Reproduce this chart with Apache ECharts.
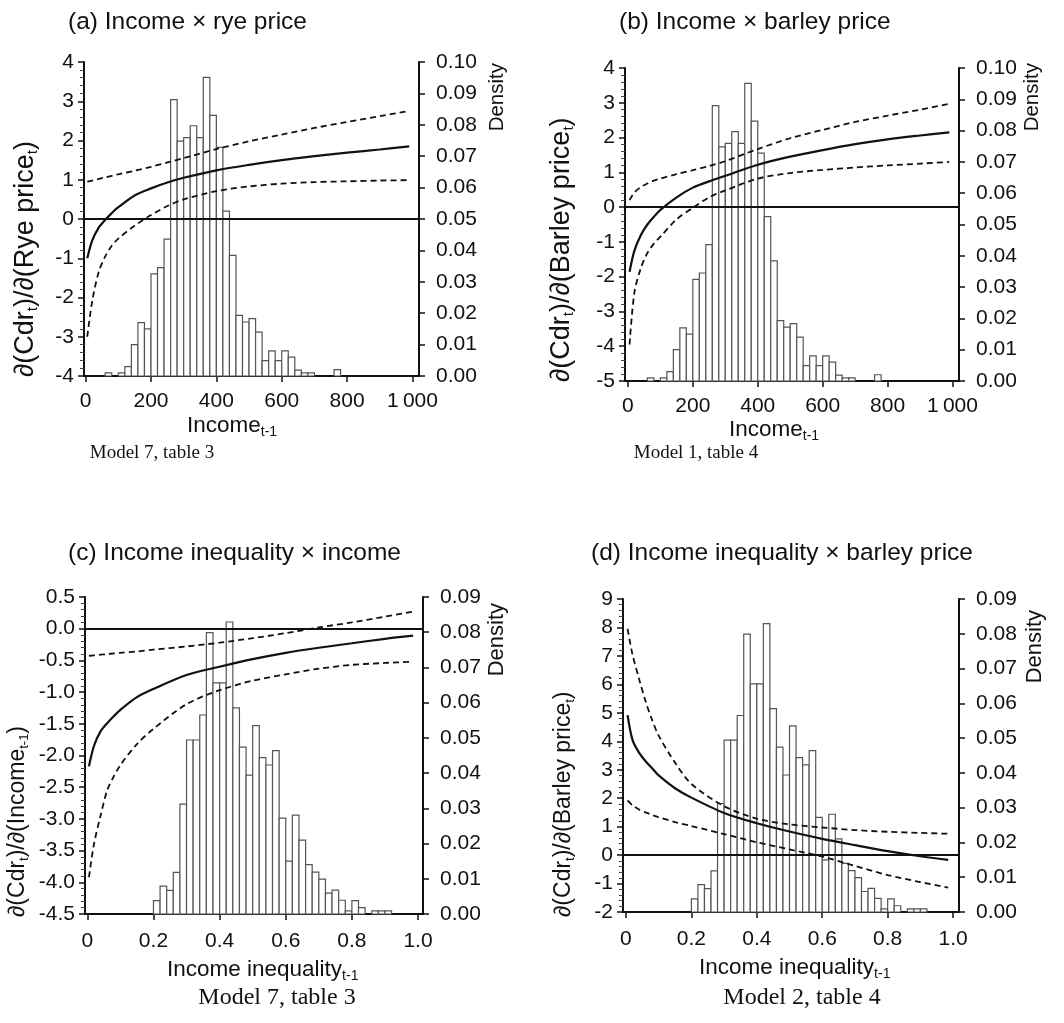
<!DOCTYPE html>
<html>
<head>
<meta charset="utf-8">
<script src="https://cdn.jsdelivr.net/npm/echarts@6/dist/echarts.min.js"></script>
<style>
  html, body { margin: 0; padding: 0; background: #fff; }
  #main { width: 1064px; height: 1023px; }
</style>
</head>
<body>
<div id="main"></div>
<script>
// ---- data ----
// income histogram (bin left edge, bin width 20) - same for panels a and b
var incomeBinStart = [60, 80, 100, 120, 140, 160, 180, 200, 220, 240, 260, 280, 300, 320, 340, 360, 380, 400,
  420, 440, 460, 480, 500, 520, 540, 560, 580, 600, 620, 640, 660, 680, 700, 720, 740, 760];
var incomeDensity = [0.001, 0, 0.001, 0.003, 0.010, 0.017, 0.015, 0.0325, 0.0345, 0.0436, 0.088, 0.0748, 0.0759,
  0.0797, 0.0759, 0.0951, 0.083, 0.0728, 0.0525, 0.0384, 0.0193, 0.0172, 0.0183, 0.014, 0.0049, 0.008, 0.0049,
  0.008, 0.006, 0.0019, 0.001, 0.001, 0, 0, 0, 0.002];

// income inequality histogram (bin left edge, bin width 0.02) - panels c and d
var ineqBinStart = [0.20, 0.22, 0.24, 0.26, 0.28, 0.30, 0.32, 0.34, 0.36, 0.38, 0.40, 0.42, 0.44, 0.46, 0.48, 0.50,
  0.52, 0.54, 0.56, 0.58, 0.60, 0.62, 0.64, 0.66, 0.68, 0.70, 0.72, 0.74, 0.76, 0.78, 0.80, 0.82, 0.84, 0.86, 0.88, 0.90];
var ineqDensity = [0.0038, 0.0079, 0.0067, 0.0118, 0.0312, 0.0494, 0.0494, 0.0565, 0.0799, 0.0656, 0.0656, 0.0829,
  0.0585, 0.0474, 0.0394, 0.0535, 0.0444, 0.0423, 0.0464, 0.0272, 0.0150, 0.0281, 0.0210, 0.0140, 0.0119, 0.0099,
  0.0059, 0.0068, 0.0039, 0.0009, 0.0038, 0.0018, 0, 0.0009, 0.0009, 0.0009];

// marginal effect curves
var incomeX = [5, 20, 40, 60, 80, 100, 150, 200, 250, 300, 400, 500, 600, 700, 800, 900, 990];
var ryeEffect = [-1.0, -0.55, -0.22, -0.02, 0.15, 0.3, 0.6, 0.78, 0.93, 1.05, 1.24, 1.38, 1.5, 1.6, 1.69, 1.77, 1.85];
var ryeUpper  = [0.95, 0.98, 1.02, 1.06, 1.10, 1.14, 1.23, 1.33, 1.44, 1.55, 1.78, 1.98, 2.15, 2.32, 2.47, 2.62, 2.75];
var ryeLower  = [-3.0, -2.1, -1.35, -0.95, -0.68, -0.5, -0.17, 0.1, 0.33, 0.5, 0.71, 0.83, 0.9, 0.94, 0.96, 0.98, 0.99];

var barleyEffect = [-1.86, -1.25, -0.8, -0.5, -0.28, -0.08, 0.28, 0.56, 0.74, 0.9, 1.22, 1.45, 1.64, 1.81, 1.95, 2.06, 2.15];
var barleyUpper  = [0.2, 0.42, 0.58, 0.68, 0.76, 0.82, 0.95, 1.06, 1.18, 1.32, 1.67, 1.98, 2.22, 2.45, 2.63, 2.8, 2.97];
var barleyLower  = [-3.95, -2.45, -1.75, -1.32, -1.05, -0.85, -0.35, -0.02, 0.28, 0.48, 0.82, 0.98, 1.07, 1.14, 1.2, 1.25, 1.3];

var ineqX = [0.005, 0.02, 0.04, 0.06, 0.08, 0.1, 0.15, 0.2, 0.3, 0.4, 0.5, 0.6, 0.7, 0.8, 0.9, 0.985];
var ineqIncEffect = [-2.17, -1.85, -1.62, -1.49, -1.38, -1.28, -1.08, -0.95, -0.73, -0.6, -0.48, -0.38, -0.3, -0.23, -0.16, -0.11];
var ineqIncUpper  = [-0.43, -0.42, -0.41, -0.4, -0.39, -0.38, -0.36, -0.33, -0.28, -0.22, -0.15, -0.07, 0.02, 0.1, 0.19, 0.27];
var ineqIncLower  = [-3.92, -3.4, -2.95, -2.55, -2.33, -2.15, -1.82, -1.58, -1.19, -0.97, -0.82, -0.72, -0.63, -0.57, -0.54, -0.52];

var ineqBarEffect = [4.92, 4.05, 3.6, 3.3, 3.05, 2.8, 2.35, 2.02, 1.48, 1.12, 0.83, 0.57, 0.35, 0.14, -0.04, -0.17];
var ineqBarUpper  = [7.95, 7.05, 6.2, 5.4, 4.75, 4.2, 3.25, 2.5, 1.72, 1.28, 1.08, 0.97, 0.88, 0.82, 0.78, 0.75];
var ineqBarLower  = [1.92, 1.75, 1.6, 1.5, 1.41, 1.33, 1.16, 1.02, 0.74, 0.45, 0.2, -0.05, -0.38, -0.7, -0.95, -1.14];

var incomeTicks = [0, 200, 400, 600, 800, 1000];
var ineqTicks = [0, 0.2, 0.4, 0.6, 0.8, 1.0];

var FONT = '"Liberation Sans", Arial, Helvetica, sans-serif';
var SERIF = '"Liberation Serif", "Times New Roman", serif';
var INK = '#111';

var chart = echarts.init(document.getElementById('main'), null, {renderer: 'canvas'});

var grids = [], xAxes = [], yAxes = [], series = [], graphics = [];

function zip(xs, ys) {
  var out = [];
  for (var i = 0; i < xs.length; i++) out.push([xs[i], ys[i]]);
  return out;
}

function subRich(main, sub, pad) {
  return {
    s: {fontSize: sub, fontFamily: FONT, fill: INK, padding: [pad, 0, 0, 0], verticalAlign: 'bottom'},
    n: {fontSize: main, fontFamily: FONT, fill: INK}
  };
}

function addPanel(p) {
  var i = grids.length;
  grids.push({left: p.box[0], top: p.box[1], width: p.box[2], height: p.box[3]});
  xAxes.push({
    gridIndex: i, type: 'value', min: p.xmin, max: p.xmax,
    axisLine: {show: true, onZero: false, lineStyle: {color: INK, width: 2}},
    axisTick: {show: true, length: 6, lineStyle: {color: INK, width: 1.5}, customValues: p.xticks},
    axisLabel: {customValues: p.xticks, formatter: p.xfmt, color: INK, fontSize: 21, fontFamily: FONT, margin: p.xmargin},
    splitLine: {show: false}
  });
  yAxes.push({
    gridIndex: i, type: 'value', position: 'left', min: p.ymin, max: p.ymax, interval: p.yint,
    axisLine: {show: true, onZero: false, lineStyle: {color: INK, width: 2}},
    axisTick: {show: true, length: 6, lineStyle: {color: INK, width: 1.5}},
    minorTick: {show: true, splitNumber: 5, length: 4, lineStyle: {color: '#444', width: 1}},
    axisLabel: {formatter: p.yfmt, color: INK, fontSize: 21, fontFamily: FONT, margin: 10},
    splitLine: {show: false}
  });
  yAxes.push({
    gridIndex: i, type: 'value', position: 'right', min: 0, max: p.dmax, interval: 0.01,
    axisLine: {show: true, onZero: false, lineStyle: {color: INK, width: 2}},
    axisTick: {show: true, length: 6, lineStyle: {color: INK, width: 1.5}},
    axisLabel: {formatter: function (v) { return v.toFixed(2); }, color: INK, fontSize: 21, fontFamily: FONT, margin: 17},
    splitLine: {show: false}
  });
  var bw = p.binWidth;
  series.push({
    type: 'custom', xAxisIndex: i, yAxisIndex: 2 * i + 1, silent: true, z: 1,
    data: zip(p.bins, p.dens),
    renderItem: function (params, api) {
      var x0 = api.value(0), d = api.value(1);
      if (!d) return null;
      var a = api.coord([x0, d]);
      var b = api.coord([x0 + bw, 0]);
      return {type: 'rect', shape: {x: a[0], y: a[1], width: b[0] - a[0], height: b[1] - a[1]},
        style: {fill: '#fff', stroke: '#555', lineWidth: 1.2}};
    }
  });
  var lineBase = {type: 'line', xAxisIndex: i, yAxisIndex: 2 * i, showSymbol: false, smooth: 0.3,
    silent: true, z: 3, animation: false};
  series.push(Object.assign({}, lineBase, {
    data: zip(p.cx, p.mid), lineStyle: {color: INK, width: 2.2},
    markLine: {silent: true, symbol: 'none', label: {show: false}, animation: false,
      lineStyle: {color: INK, width: 2.2, type: 'solid'}, data: [{yAxis: 0}]}
  }));
  series.push(Object.assign({}, lineBase, {data: zip(p.cx, p.up), lineStyle: {color: INK, width: 1.8, type: [6, 4]}}));
  series.push(Object.assign({}, lineBase, {data: zip(p.cx, p.lo), lineStyle: {color: INK, width: 1.8, type: [6, 4]}}));

  // texts
  var yl = p.ylabSize;
  graphics.push({type: 'text', x: p.title[0], y: p.title[1],
    style: {text: p.title[2], font: '24.5px ' + FONT, fill: INK, verticalAlign: 'middle', align: 'left'}});
  graphics.push({type: 'text', x: p.dens_lab[0], y: p.dens_lab[1], rotation: Math.PI / 2,
    style: {text: 'Density', font: p.dens_lab[2] + 'px ' + FONT, fill: INK, align: 'right', verticalAlign: 'middle'}});
  graphics.push({type: 'text', x: p.ylab[0], y: p.ylab[1], rotation: Math.PI / 2,
    style: {text: p.ylab[2], font: yl + 'px ' + FONT, fill: INK, align: 'left', verticalAlign: 'middle',
      rich: subRich(yl, Math.round(yl * 0.57), Math.round(yl * 0.5))}});
  graphics.push({type: 'text', x: p.xlab[0], y: p.xlab[1],
    style: {text: p.xlab[2], font: '22.5px ' + FONT, fill: INK, align: 'left', verticalAlign: 'middle',
      rich: subRich(22.5, 14, 12)}});
  graphics.push({type: 'text', x: p.foot[0], y: p.foot[1],
    style: {text: p.foot[2], font: p.foot[3] + 'px ' + SERIF, fill: INK, align: 'center', verticalAlign: 'middle'}});
}

var incFmt = function (v) { return v === 1000 ? '1\u2009000' : String(v); };
var ineqFmt = function (v) { return v === 0 ? '0' : v.toFixed(1); };
var intFmt = function (v) { return String(v); };

addPanel({
  box: [84, 62, 335, 314], xmin: -5, xmax: 1020, xticks: incomeTicks, xfmt: incFmt, xmargin: 15,
  ymin: -4, ymax: 4, yint: 1, yfmt: intFmt, dmax: 0.10,
  bins: incomeBinStart, dens: incomeDensity, binWidth: 20,
  cx: incomeX, mid: ryeEffect, up: ryeUpper, lo: ryeLower,
  title: [68, 22, '(a) Income \u00d7 rye price'],
  dens_lab: [497, 63, 20.5], ylabSize: 27,
  ylab: [26, 377, '{n|\u2202(Cdr}{s|t}{n|)/\u2202(Rye price}{s|t}{n|)}'],
  xlab: [187, 426, '{n|Income}{s|t-1}'], foot: [152, 453, 'Model 7, table 3', 19]
});
addPanel({
  box: [625, 68, 334, 313], xmin: -9, xmax: 1020, xticks: incomeTicks, xfmt: incFmt, xmargin: 15,
  ymin: -5, ymax: 4, yint: 1, yfmt: intFmt, dmax: 0.10,
  bins: incomeBinStart, dens: incomeDensity, binWidth: 20,
  cx: incomeX, mid: barleyEffect, up: barleyUpper, lo: barleyLower,
  title: [619, 22, '(b) Income \u00d7 barley price'],
  dens_lab: [1032, 63, 20.5], ylabSize: 27,
  ylab: [562, 382, '{n|\u2202(Cdr}{s|t}{n|)/\u2202(Barley price}{s|t}{n|)}'],
  xlab: [729, 430, '{n|Income}{s|t-1}'], foot: [696, 453, 'Model 1, table 4', 19]
});
addPanel({
  box: [85, 597, 338, 317], xmin: -0.007, xmax: 1.015, xticks: ineqTicks, xfmt: ineqFmt, xmargin: 17,
  ymin: -4.5, ymax: 0.5, yint: 0.5, yfmt: function (v) { return v.toFixed(1); }, dmax: 0.09,
  bins: ineqBinStart, dens: ineqDensity, binWidth: 0.02,
  cx: ineqX, mid: ineqIncEffect, up: ineqIncUpper, lo: ineqIncLower,
  title: [68, 553, '(c) Income inequality \u00d7 income'],
  dens_lab: [497, 603, 22], ylabSize: 23,
  ylab: [18, 917, '{n|\u2202(Cdr}{s|t}{n|)/\u2202(Income}{s|t-1}{n|)}'],
  xlab: [167, 970, '{n|Income inequality}{s|t-1}'], foot: [277, 998, 'Model 7, table 3', 24]
});
addPanel({
  box: [623, 599, 336, 313], xmin: -0.009, xmax: 1.018, xticks: ineqTicks, xfmt: ineqFmt, xmargin: 17,
  ymin: -2, ymax: 9, yint: 1, yfmt: intFmt, dmax: 0.09,
  bins: ineqBinStart, dens: ineqDensity, binWidth: 0.02,
  cx: ineqX, mid: ineqBarEffect, up: ineqBarUpper, lo: ineqBarLower,
  title: [591, 553, '(d) Income inequality \u00d7 barley price'],
  dens_lab: [1035, 610, 22], ylabSize: 23,
  ylab: [564, 917, '{n|\u2202(Cdr}{s|t}{n|)/\u2202(Barley price}{s|t}{n|)}'],
  xlab: [699, 968, '{n|Income inequality}{s|t-1}'], foot: [802, 998, 'Model 2, table 4', 24]
});

chart.setOption({
  backgroundColor: '#fff',
  animation: false,
  grid: grids,
  xAxis: xAxes,
  yAxis: yAxes,
  series: series,
  graphic: {elements: graphics}
});
</script>
</body>
</html>
